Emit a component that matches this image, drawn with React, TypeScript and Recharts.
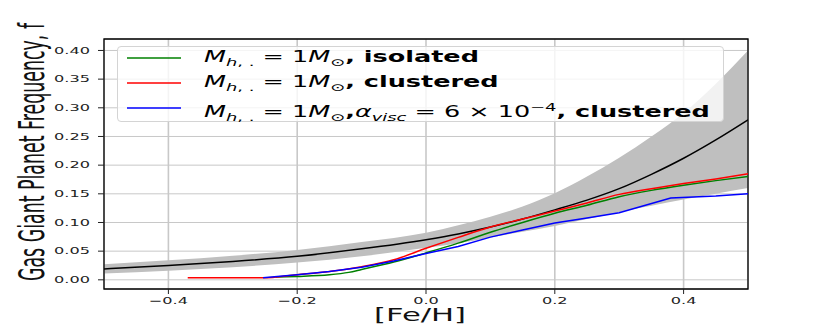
import React from 'react';
import {
  ComposedChart,
  Area,
  Line,
  XAxis,
  YAxis,
  CartesianGrid,
  ReferenceArea,
  Legend,
} from 'recharts';

// the source figure is stretched horizontally, so text gets the same stretch
const SX = 1.7;
const FONT = '"DejaVu Sans", Verdana, sans-serif';

const X_TICKS = [-0.4, -0.2, 0, 0.2, 0.4];
const Y_TICKS = [0, 0.05, 0.1, 0.15, 0.2, 0.25, 0.3, 0.35, 0.4];
const X_DOMAIN: [number, number] = [-0.5, 0.5];
const Y_DOMAIN: [number, number] = [-0.016, 0.42];

// mean curve and its shaded spread
const FEH_BAND = [-0.5, -0.4, -0.3, -0.2, -0.1, 0, 0.05, 0.1, 0.15, 0.2, 0.25, 0.3, 0.35, 0.4, 0.45, 0.5];
const MEAN = [0.019, 0.025, 0.032, 0.041, 0.054, 0.07, 0.08, 0.092, 0.106, 0.122, 0.139, 0.159, 0.184, 0.212, 0.244, 0.279];
const BAND_LO = [0.011, 0.016, 0.022, 0.03, 0.041, 0.056, 0.064, 0.074, 0.084, 0.094, 0.106, 0.118, 0.129, 0.14, 0.15, 0.16];
const BAND_HI = [0.027, 0.034, 0.042, 0.052, 0.066, 0.082, 0.095, 0.11, 0.128, 0.151, 0.18, 0.213, 0.25, 0.291, 0.342, 0.4];

const FEH_GREEN = [-0.233, -0.2, -0.15, -0.12, -0.1, -0.05, 0, 0.05, 0.1, 0.15, 0.2, 0.25, 0.3, 0.35, 0.4, 0.45, 0.5];
const GREEN = [0.0047, 0.0058, 0.0087, 0.013, 0.018, 0.031, 0.047, 0.064, 0.083, 0.1, 0.116, 0.13, 0.145, 0.156, 0.165, 0.173, 0.18];

const FEH_RED = [-0.37, -0.253, -0.2, -0.15, -0.1, -0.05, 0, 0.05, 0.1, 0.15, 0.2, 0.25, 0.3, 0.35, 0.4, 0.45, 0.5];
const RED = [0.0035, 0.0035, 0.009, 0.0145, 0.023, 0.035, 0.055, 0.074, 0.092, 0.106, 0.12, 0.134, 0.149, 0.159, 0.168, 0.176, 0.185];

const FEH_BLUE = [-0.253, -0.2, -0.15, -0.1, -0.05, 0, 0.05, 0.1, 0.15, 0.2, 0.25, 0.3, 0.38, 0.45, 0.5];
const BLUE = [0.0035, 0.009, 0.0145, 0.022, 0.033, 0.046, 0.058, 0.0745, 0.087, 0.099, 0.108, 0.117, 0.1425, 0.146, 0.15];

const LEGEND_COLORS = ['#008000', '#ff0000', '#0000ff'];
const LEGEND_TAILS = ['isolated', 'clustered', 'clustered'];
const LEGEND_VISC = [false, false, true];

const pairs = (xs: number[], ys: number[]) => xs.map((feh, i) => ({ feh, f: ys[i] }));
const bandData = FEH_BAND.map((feh, i) => ({ feh, lo: BAND_LO[i], hi: BAND_HI[i] }));

function fmtX(v: number) {
  return v.toFixed(1).replace('-', '\u2212');
}

function XTick(props: any) {
  const { x, y, payload } = props;
  return (
    <text
      transform={`translate(${x},${y}) scale(${SX},1)`}
      textAnchor="middle"
      dy="0.71em"
      fontSize={9.5}
      fontFamily={FONT}
      fill="#222"
    >
      {fmtX(payload.value)}
    </text>
  );
}

function YTick(props: any) {
  const { x, y, payload } = props;
  return (
    <text
      transform={`translate(${x},${y}) scale(${SX},1)`}
      textAnchor="end"
      dy="0.35em"
      fontSize={9.5}
      fontFamily={FONT}
      fill="#222"
    >
      {Number(payload.value).toFixed(2)}
    </text>
  );
}

function XTitle() {
  return (
    <text transform={`translate(420,321) scale(${SX},1)`} textAnchor="middle" fontSize={18} fontFamily={FONT} fill="#111">
      [Fe/H]
    </text>
  );
}

function YTitle() {
  // condensed look: small font along the text, stretched across it
  return (
    <text
      transform={`translate(44,152) scale(2.05,1) rotate(-90)`}
      textAnchor="middle"
      fontSize={17.4}
      fontFamily={FONT}
      fill="#111"
    >
      Gas Giant Planet Frequency, f
    </text>
  );
}

function LegendBox() {
  return (
    <div
      style={{
        position: 'relative',
        width: 607,
        height: 76,
        boxSizing: 'border-box',
        border: '1px solid #d4d4d4',
        borderRadius: 4,
        background: 'rgba(255,255,255,0.8)',
        fontFamily: FONT,
      }}
    >
      {LEGEND_COLORS.map((c, i) => (
        <div key={i} style={{ position: 'absolute', left: 0, top: 11 + i * 25 - 10, height: 20, width: 600 }}>
          <svg width={70} height={20} style={{ position: 'absolute', left: 0, top: 0 }}>
            <line x1={9} x2={63} y1={10} y2={10} stroke={c} strokeWidth={1.5} />
          </svg>
          <div
            style={{
              position: 'absolute',
              left: 86,
              top: 1,
              whiteSpace: 'nowrap',
              fontSize: 15,
              lineHeight: '17px',
              color: '#000',
              transform: `scaleX(${SX})`,
              transformOrigin: 'left center',
            }}
          >
            <i>M</i>
            <sub style={{ fontSize: 10.5 }}>
              <i>h</i>,&nbsp;.
            </sub>
            {' = 1'}
            <i>M</i>
            <sub style={{ fontSize: 10.5 }}>⊙</sub>
            <b>,</b>
            {LEGEND_VISC[i] && (
              <>
                <i>α</i>
                <sub style={{ fontSize: 10.5 }}>
                  <i>visc</i>
                </sub>
                {' = 6 × 10'}
                <sup style={{ fontSize: 10.5 }}>−4</sup>
                <b>,</b>
              </>
            )}
            <b> {LEGEND_TAILS[i]}</b>
          </div>
        </div>
      ))}
    </div>
  );
}

export default function App() {
  return (
    <div style={{ position: 'absolute', left: 0, top: 0, width: 830, height: 325, background: '#fff' }}>
      <ComposedChart width={830} height={325} margin={{ top: 39, right: 82, bottom: 0, left: 0 }}>
        <XAxis
          dataKey="feh"
          type="number"
          domain={X_DOMAIN}
          ticks={X_TICKS}
          allowDataOverflow
          height={36}
          tick={<XTick />}
          tickSize={5}
          tickMargin={3}
          tickLine={{ stroke: '#222' }}
          axisLine={false}
          label={<XTitle />}
        />
        <YAxis
          type="number"
          domain={Y_DOMAIN}
          ticks={Y_TICKS}
          allowDataOverflow
          width={104}
          tick={<YTick />}
          tickSize={6}
          tickMargin={8}
          tickLine={{ stroke: '#222' }}
          axisLine={false}
          label={<YTitle />}
        />
        <Area
          data={bandData}
          dataKey={(d: any) => [d.lo, d.hi]}
          type="monotone"
          stroke="none"
          fill="#bfbfbf"
          fillOpacity={1}
          isAnimationActive={false}
          legendType="none"
        />
        <CartesianGrid vertical={false} stroke="#c8c8c8" strokeWidth={1} />
        <CartesianGrid horizontal={false} stroke="#c8c8c8" strokeWidth={1.6} />
        <Line data={pairs(FEH_BAND, MEAN)} dataKey="f" type="monotone" stroke="#000" strokeWidth={1.5} dot={false} isAnimationActive={false} />
        <Line data={pairs(FEH_GREEN, GREEN)} dataKey="f" type="monotone" stroke="#008000" strokeWidth={1.5} dot={false} isAnimationActive={false} />
        <Line data={pairs(FEH_RED, RED)} dataKey="f" type="monotone" stroke="#ff0000" strokeWidth={1.5} dot={false} isAnimationActive={false} />
        <Line data={pairs(FEH_BLUE, BLUE)} dataKey="f" type="linear" stroke="#0000ff" strokeWidth={1.5} dot={false} isAnimationActive={false} />
        <ReferenceArea
          x1={X_DOMAIN[0]}
          x2={X_DOMAIN[1]}
          y1={Y_DOMAIN[0]}
          y2={Y_DOMAIN[1]}
          fill="none"
          fillOpacity={0}
          stroke="#000"
          strokeWidth={1.3}
          ifOverflow="visible"
        />
        <Legend
          layout="vertical"
          align="center"
          verticalAlign="middle"
          wrapperStyle={{ position: 'absolute', left: 117, top: 46, width: 607, height: 76 }}
          content={() => <LegendBox />}
        />
      </ComposedChart>
    </div>
  );
}
